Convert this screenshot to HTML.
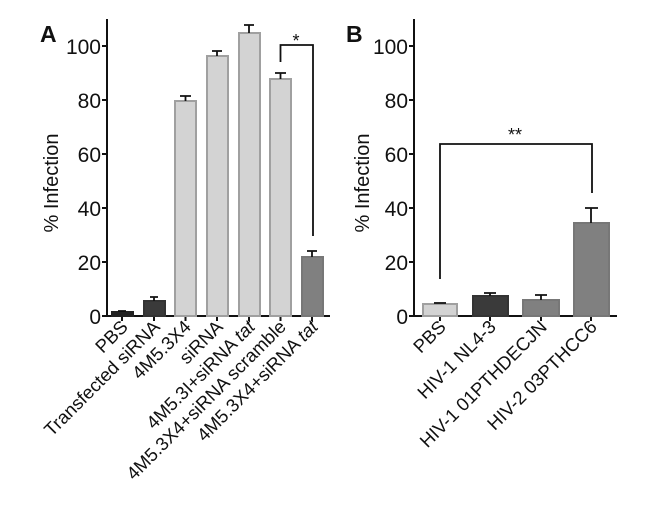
<!DOCTYPE html>
<html><head><style>body{margin:0;background:#fff}svg{display:block}text{font-family:"Liberation Sans",Arial,sans-serif;fill:#111}</style></head>
<body>
<svg width="650" height="509" viewBox="0 0 650 509" xmlns="http://www.w3.org/2000/svg">
<text x="40" y="42" font-weight="bold" font-size="23">A</text>
<text x="346" y="42" font-weight="bold" font-size="23">B</text>
<!-- Panel A axes -->
<g stroke="#111" stroke-width="2" fill="none">
<line x1="107" y1="19" x2="107" y2="317"/>
<line x1="106" y1="316" x2="330" y2="316"/>
<line x1="102" y1="46" x2="107" y2="46"/><line x1="102" y1="100" x2="107" y2="100"/><line x1="102" y1="154" x2="107" y2="154"/><line x1="102" y1="208" x2="107" y2="208"/><line x1="102" y1="262" x2="107" y2="262"/><line x1="102" y1="316" x2="107" y2="316"/>
<line x1="122" y1="316" x2="122" y2="321"/><line x1="154" y1="316" x2="154" y2="321"/><line x1="185.5" y1="316" x2="185.5" y2="321"/><line x1="217" y1="316" x2="217" y2="321"/><line x1="249" y1="316" x2="249" y2="321"/><line x1="280.5" y1="316" x2="280.5" y2="321"/><line x1="312" y1="316" x2="312" y2="321"/>
</g>
<g font-size="21" text-anchor="end">
<text x="101" y="54">100</text><text x="101" y="108">80</text><text x="101" y="162">60</text><text x="101" y="216">40</text><text x="101" y="270">20</text><text x="101" y="324">0</text>
</g>
<text transform="translate(58,183) rotate(-90)" text-anchor="middle" font-size="20">% Infection</text>
<g stroke-width="2">
<rect x="112" y="312" width="21" height="4" fill="#222" stroke="#222"/>
<rect x="144" y="301" width="21" height="15" fill="#3a3a3a" stroke="#333"/>
<rect x="175" y="101" width="21" height="215" fill="#d3d3d3" stroke="#a0a0a0"/>
<rect x="207" y="56" width="21" height="260" fill="#d3d3d3" stroke="#a0a0a0"/>
<rect x="239" y="33" width="21" height="283" fill="#d3d3d3" stroke="#a0a0a0"/>
<rect x="270" y="79" width="21" height="237" fill="#d3d3d3" stroke="#a0a0a0"/>
<rect x="302" y="257" width="21" height="59" fill="#808080" stroke="#777"/>
</g>
<g stroke="#111" stroke-width="1.8" fill="none">
<path d="M118 311H126M122 311V312"/>
<path d="M150 297H158M154 297V301"/>
<path d="M180 96H191M185.5 96V101"/>
<path d="M212 51H222M217 51V56"/>
<path d="M244 25H254M249 25V33"/>
<path d="M275 73H286M280.5 73V79"/>
<path d="M307 251H317M312 251V257"/>
<path d="M280.5 62V45H313V236"/>
<path d="M440 279V144H592V193"/>
</g>
<text x="296" y="47" font-size="18" text-anchor="middle">*</text>
<text x="515" y="141" font-size="18" text-anchor="middle">**</text>
<g font-size="18.5" text-anchor="end">
<text transform="translate(129,328) rotate(-45)">PBS</text>
<text transform="translate(161,328) rotate(-45)">Transfected siRNA</text>
<text transform="translate(192,328) rotate(-45)">4M5.3X4</text>
<text transform="translate(224,328) rotate(-45)">siRNA</text>
<text transform="translate(256,328) rotate(-45)">4M5.3I+siRNA <tspan font-style="italic">tat</tspan></text>
<text transform="translate(287,328) rotate(-45)">4M5.3X4+siRNA scramble</text>
<text transform="translate(319,328) rotate(-45)">4M5.3X4+siRNA <tspan font-style="italic">tat</tspan></text>
</g>
<!-- Panel B axes -->
<g stroke="#111" stroke-width="2" fill="none">
<line x1="414" y1="19" x2="414" y2="317"/>
<line x1="413" y1="316" x2="617" y2="316"/>
<line x1="409" y1="46" x2="414" y2="46"/><line x1="409" y1="100" x2="414" y2="100"/><line x1="409" y1="154" x2="414" y2="154"/><line x1="409" y1="208" x2="414" y2="208"/><line x1="409" y1="262" x2="414" y2="262"/><line x1="409" y1="316" x2="414" y2="316"/>
<line x1="440" y1="316" x2="440" y2="321"/><line x1="490" y1="316" x2="490" y2="321"/><line x1="541" y1="316" x2="541" y2="321"/><line x1="591" y1="316" x2="591" y2="321"/>
</g>
<g font-size="21" text-anchor="end">
<text x="408" y="54">100</text><text x="408" y="108">80</text><text x="408" y="162">60</text><text x="408" y="216">40</text><text x="408" y="270">20</text><text x="408" y="324">0</text>
</g>
<text transform="translate(369,183) rotate(-90)" text-anchor="middle" font-size="20">% Infection</text>
<g stroke-width="2">
<rect x="423" y="304" width="34" height="12" fill="#d3d3d3" stroke="#a0a0a0"/>
<rect x="473" y="296" width="35" height="20" fill="#3a3a3a" stroke="#333"/>
<rect x="523" y="300" width="36" height="16" fill="#808080" stroke="#777"/>
<rect x="574" y="223" width="35" height="93" fill="#808080" stroke="#777"/>
</g>
<g stroke="#111" stroke-width="1.8" fill="none">
<path d="M434 303H446"/>
<path d="M484 293H496M490 293V296"/>
<path d="M535 295H547M541 295V300"/>
<path d="M585 208H598M591 208V223"/>
</g>
<g font-size="18.5" text-anchor="end">
<text transform="translate(447,328) rotate(-45)">PBS</text>
<text transform="translate(497,328) rotate(-45)">HIV-1 NL4-3</text>
<text transform="translate(548,328) rotate(-45)">HIV-1 01PTHDECJN</text>
<text transform="translate(598,328) rotate(-45)">HIV-2 03PTHCC6</text>
</g>
</svg>
</body></html>
